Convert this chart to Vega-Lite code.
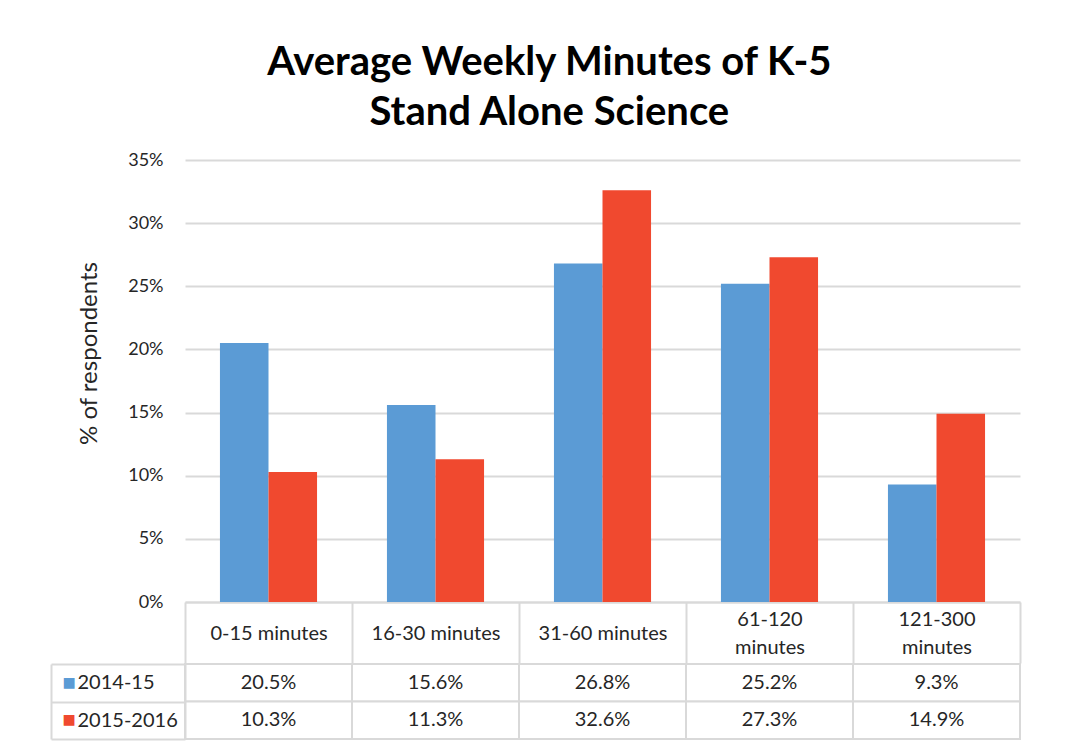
{
  "$schema": "https://vega.github.io/schema/vega-lite/v6.json",
  "padding": {"left": 50, "top": 43, "right": 69, "bottom": 12},
  "background": "white",
  "config": {"font": "Lato", "view": {"stroke": null}},
  "data": {"values": [
    {"category": "0-15 minutes", "series": "2014-15", "value": 0.205},
    {"category": "0-15 minutes", "series": "2015-2016", "value": 0.103},
    {"category": "16-30 minutes", "series": "2014-15", "value": 0.156},
    {"category": "16-30 minutes", "series": "2015-2016", "value": 0.113},
    {"category": "31-60 minutes", "series": "2014-15", "value": 0.268},
    {"category": "31-60 minutes", "series": "2015-2016", "value": 0.326},
    {"category": "61-120 minutes", "series": "2014-15", "value": 0.252},
    {"category": "61-120 minutes", "series": "2015-2016", "value": 0.273},
    {"category": "121-300 minutes", "series": "2014-15", "value": 0.093},
    {"category": "121-300 minutes", "series": "2015-2016", "value": 0.149}
  ]},
  "spacing": -11,
  "vconcat": [
    {
      "width": 835,
      "height": 442,
      "title": {
        "text": ["Average Weekly Minutes of K-5", "Stand Alone Science"],
        "fontSize": 40,
        "fontWeight": "bold",
        "lineHeight": 50,
        "frame": "bounds",
        "anchor": "middle",
        "offset": 18,
        "color": "#000000"
      },
      "mark": {"type": "bar"},
      "encoding": {
        "x": {
          "field": "category",
          "type": "nominal",
          "sort": ["0-15 minutes", "16-30 minutes", "31-60 minutes", "61-120 minutes", "121-300 minutes"],
          "scale": {"paddingInner": 0, "paddingOuter": 0},
          "axis": {
            "title": null,
            "labelAngle": 0,
            "domainColor": "#d9d9d9",
            "domainWidth": 2,
            "tickBand": "extent",
            "tickSize": 61,
            "tickColor": "#d9d9d9",
            "tickWidth": 2,
            "labelPadding": {"condition": {"test": "length(datum.label) > 13", "value": -44}, "value": -30},
            "labelBaseline": "middle",
            "labelFontSize": 20,
            "labelColor": "#262626",
            "labelLineHeight": 28,
            "labelExpr": "length(datum.label) > 13 ? split(datum.label, ' ') : datum.label"
          }
        },
        "xOffset": {
          "field": "series",
          "type": "nominal",
          "scale": {"paddingOuter": 0.72, "paddingInner": 0}
        },
        "y": {
          "field": "value",
          "type": "quantitative",
          "scale": {"domain": [0, 0.35]},
          "axis": {
            "format": ".0%",
            "values": [0, 0.05, 0.1, 0.15, 0.2, 0.25, 0.3, 0.35],
            "title": "% of respondents",
            "titleFontSize": 24,
            "titleFontWeight": "normal",
            "titleColor": "#262626",
            "titlePadding": 26,
            "titleY": 193,
            "labelFontSize": 18,
            "labelColor": "#262626",
            "labelPadding": 22,
            "domain": false,
            "ticks": false,
            "gridColor": "#d9d9d9",
            "gridWidth": 2
          }
        },
        "color": {
          "field": "series",
          "type": "nominal",
          "scale": {"domain": ["2014-15", "2015-2016"], "range": ["#5b9bd5", "#f0492f"]},
          "legend": null
        }
      }
    },
    {
      "width": 835,
      "height": 75,
      "layer": [
        {
          "mark": {"type": "rect", "fill": "white", "stroke": "#d9d9d9", "strokeWidth": 2},
          "encoding": {
            "x": {
              "field": "category",
              "type": "nominal",
              "sort": ["0-15 minutes", "16-30 minutes", "31-60 minutes", "61-120 minutes", "121-300 minutes"],
              "scale": {"paddingInner": 0, "paddingOuter": 0},
              "axis": null
            },
            "y": {
              "field": "series",
              "type": "nominal",
              "scale": {"domain": ["2014-15", "2015-2016"], "paddingInner": 0, "paddingOuter": 0},
              "axis": {
                "title": null,
                "orient": "left",
                "tickBand": "extent",
                "tickSize": 134,
                "tickColor": "#d9d9d9",
                "tickWidth": 2,
                "domainColor": "#d9d9d9",
                "domainWidth": 2,
                "labelAlign": "left",
                "labelPadding": -26,
                "labelFontSize": 20,
                "labelColor": "#262626",
                "labelBaseline": "middle"
              }
            }
          }
        },
        {
          "mark": {"type": "text", "fontSize": 20, "color": "#262626"},
          "encoding": {
            "x": {
              "field": "category",
              "type": "nominal",
              "sort": ["0-15 minutes", "16-30 minutes", "31-60 minutes", "61-120 minutes", "121-300 minutes"],
              "axis": null
            },
            "y": {
              "field": "series",
              "type": "nominal",
              "axis": {
                "title": null,
                "orient": "left",
                "offset": 134,
                "ticks": false,
                "domainColor": "#d9d9d9",
                "domainWidth": 2,
                "labelExpr": "'■'",
                "labelFont": "DejaVu Sans",
                "labelAlign": "left",
                "labelPadding": -11,
                "labelFontSize": 14,
                "labelBaseline": "middle",
                "labelColor": {"condition": {"test": "datum.value === '2014-15'", "value": "#5b9bd5"}, "value": "#f0492f"}
              }
            },
            "text": {"field": "value", "type": "quantitative", "format": ".1%"}
          }
        }
      ],
      "resolve": {"axis": {"y": "independent"}}
    }
  ]
}
